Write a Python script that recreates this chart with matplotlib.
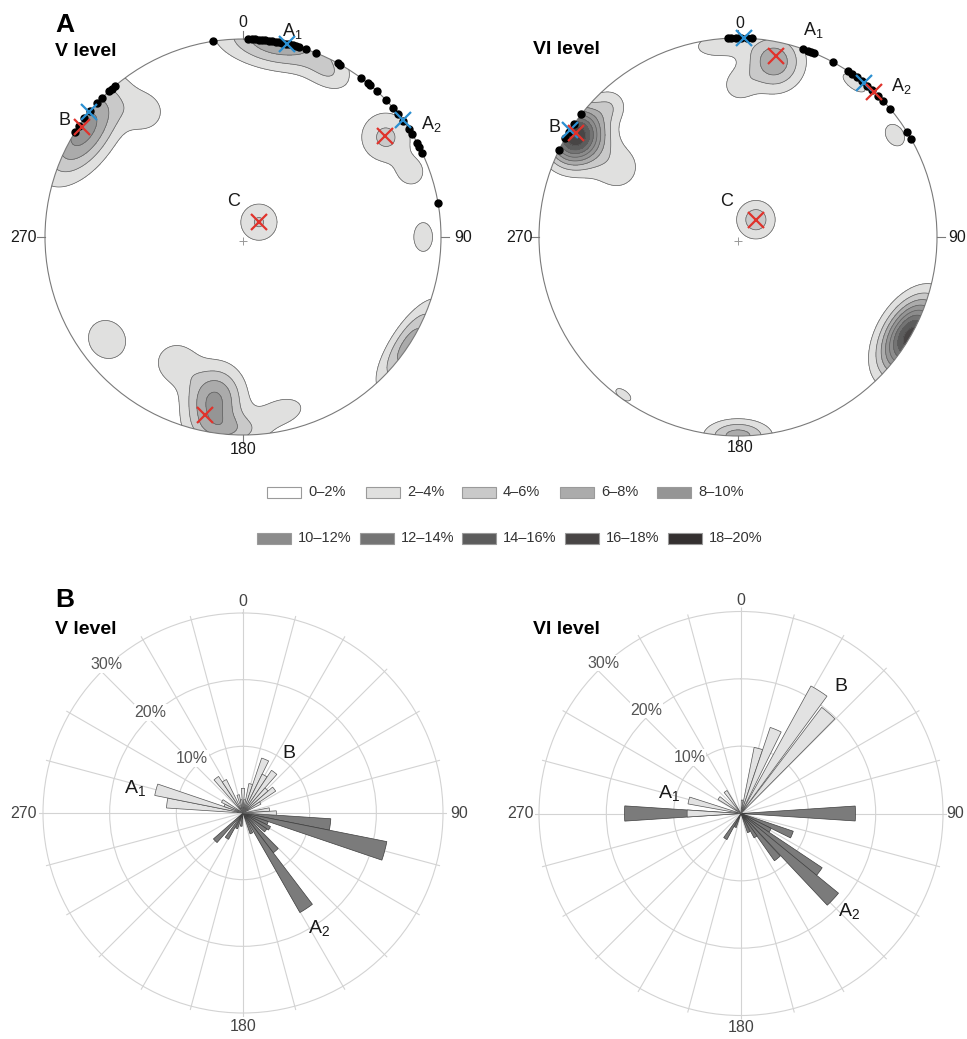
import numpy as np
import matplotlib
matplotlib.use("Agg")
import matplotlib.pyplot as plt
from matplotlib.patches import Circle, Rectangle

plt.rcParams['font.family'] = ['Liberation Sans', 'DejaVu Sans']
plt.rcParams['mathtext.fontset'] = 'custom'
plt.rcParams['mathtext.rm'] = 'Liberation Sans'

W, H = 967, 1039

# ---------------- stereonet data ----------------
# pole-density clusters: azimuth (deg), distance from centre (fraction of radius),
# tangential spread, radial spread, peak density (%)
v_az = [10, 28, 304, 322, 55, 69, 90, 47, 233, 190, 183, 167, 208, 123]
v_r = [1.0, 0.93, 0.97, 0.80, 0.88, 0.91, 0.91, 0.11, 0.86, 0.84, 0.98, 0.90, 0.72, 1.0]
v_st = [0.20, 0.09, 0.19, 0.08, 0.095, 0.06, 0.10, 0.075, 0.11, 0.10, 0.13, 0.10, 0.08, 0.17]
v_sr = [0.09, 0.06, 0.10, 0.08, 0.095, 0.06, 0.065, 0.075, 0.10, 0.12, 0.06, 0.06, 0.08, 0.06]
v_pk = [7.5, 3.0, 9.0, 3.0, 4.5, 3.0, 2.6, 4.2, 3.0, 8.5, 4.0, 3.0, 3.5, 7.0]

vi_az = [11.6, 0, 354, 37, 57, 302, 300, 316, 46, 120, 216, 180]
vi_r = [0.90, 0.76, 0.97, 0.97, 0.94, 0.96, 0.70, 0.92, 0.125, 1.0, 0.98, 1.0]
vi_st = [0.10, 0.06, 0.10, 0.08, 0.08, 0.10, 0.10, 0.06, 0.07, 0.14, 0.06, 0.11]
vi_sr = [0.10, 0.06, 0.05, 0.035, 0.06, 0.09, 0.10, 0.06, 0.07, 0.085, 0.03, 0.055]
vi_pk = [7.5, 2.8, 3.2, 2.8, 2.6, 18.0, 3.0, 3.0, 5.2, 17.0, 2.6, 7.0]

# measured planes (black dots on the primitive circle), azimuths
v_dots = [351.3, 1.5, 2.5, 3.5, 4.5, 5.5, 6.5, 7.5, 8.5, 9.5, 10.5, 11.5, 12.5, 13.5,
          14.5, 15.5, 16.5, 18.5, 21.6, 28.6, 29.5, 36.6, 39, 40, 42.4, 46.2, 49.2,
          51.5, 54, 56.8, 58.5, 61.6, 63, 64.8, 80, 319.7, 318.5, 317.3, 314.7,
          312.7, 309.6, 306.8, 304, 301.9]
vi_dots = [357, 358, 359.5, 1, 2.5, 4, 19, 20.5, 21.6, 22.6, 28.4, 33.6, 34.9, 36.7,
           38.5, 40.5, 42.5, 44.7, 46.9, 50, 58, 60.4, 308, 304.5, 302, 299.7, 295.8]

# mean orientations: azimuth, distance, colour
v_cross_az = [12.8, 53.8, 309, 304.2, 54.5, 46.8, 192]
v_cross_r = [1.0, 1.0, 1.0, 0.985, 0.88, 0.113, 0.92]
v_cross_c = ['b', 'b', 'b', 'r', 'r', 'r', 'r']
vi_cross_az = [1.7, 39.1, 302.4, 12, 43.2, 302.7, 46.6]
vi_cross_r = [1.0, 1.0, 1.0, 0.93, 1.0, 0.97, 0.127]
vi_cross_c = ['b', 'b', 'b', 'r', 'r', 'r', 'r']

levels = list(range(0, 22, 2))
level_colors = ['#ffffff', '#e0e0df', '#c9c9c9', '#ababab', '#959595',
                '#8c8c8c', '#747474', '#5c5c5c', '#484545', '#343030']
level_labels = ['0–2%', '2–4%', '4–6%', '6–8%', '8–10%',
                '10–12%', '12–14%', '14–16%', '16–18%', '18–20%']

# ---------------- rose data ----------------
v_light_az = [277.5, 285, 292.5, 300, 322.5, 330, 345, 352.5, 0, 7.5, 15, 22.5, 30,
              37.5, 45, 52.5, 60, 82.5, 90]
v_light_len = [11.5, 13.5, 3.0, 3.6, 6.6, 5.6, 2.8, 2.0, 3.7, 2.0, 4.5, 8.7, 6.5,
               7.7, 5.0, 5.9, 3.0, 4.0, 5.0]
v_dark_az = [97.5, 105, 112.5, 120, 127.5, 139, 146.5, 157.5, 187.5, 202.5, 212.5, 225]
v_dark_len = [13.2, 22.0, 4.0, 4.6, 4.3, 7.5, 17.2, 3.3, 2.0, 2.5, 4.5, 5.9]

vi_light_az = [270, 284, 305, 325, 5, 15, 22.5, 32.5, 41]
vi_light_len = [8.0, 8.0, 4.0, 4.0, 2.0, 10.0, 13.5, 21.6, 19.8]
vi_dark_az = [90, 112.5, 120, 127.5, 133, 141, 148, 157.5, 202.5, 212, 270]
vi_dark_len = [17.0, 8.2, 5.0, 14.5, 18.7, 8.6, 4.1, 3.0, 2.2, 4.4, 17.3]

BLUE = '#2b8fd1'
RED = '#e0332c'


def px_rect(cx, cy, half):
    return [(cx - half) / W, (H - cy - half) / H, 2 * half / W, 2 * half / H]


def xy(az, r):
    t = np.radians(np.asarray(az, dtype=float))
    return np.asarray(r) * np.sin(t), np.asarray(r) * np.cos(t)


def density(az, r, st, sr, pk, X, Y):
    Z = np.zeros_like(X)
    for a, rr, s1, s2, p in zip(az, r, st, sr, pk):
        t = np.radians(a)
        ux, uy = np.sin(t), np.cos(t)
        dx, dy = X - rr * ux, Y - rr * uy
        d_r = dx * ux + dy * uy
        d_t = dx * uy - dy * ux
        Z += p * np.exp(-0.5 * ((d_t / s1) ** 2 + (d_r / s2) ** 2))
    return np.clip(Z, 0, 19.9)


def stereonet(cx, cy, R, az, r, st, sr, pk, dots, c_az, c_r, c_col, labels):
    lim = 1.15
    ax = fig.add_axes(px_rect(cx, cy, lim * R))
    ax.set_xlim(-lim, lim)
    ax.set_ylim(-lim, lim)
    ax.set_aspect('equal')
    ax.axis('off')

    g = np.linspace(-1.02, 1.02, 500)
    X, Y = np.meshgrid(g, g)
    Z = density(az, r, st, sr, pk, X, Y)
    clip = Circle((0, 0), 1, transform=ax.transData)
    cf = ax.contourf(X, Y, Z, levels=levels, colors=level_colors)
    cf.set_clip_path(clip)
    cl = ax.contour(X, Y, Z, levels=levels[1:-1], colors='#5e5e5e', linewidths=0.5)
    cl.set_clip_path(clip)

    ax.add_patch(Circle((0, 0), 1, fill=False, ec='#7a7a7a', lw=0.8))
    for a in (0, 90, 180, 270):
        x0, y0 = xy(a, 1.0)
        x1, y1 = xy(a, 1.04)
        ax.plot([x0, x1], [y0, y1], color='#7a7a7a', lw=0.8)
    ax.plot(0, -0.02, '+', color='#999999', ms=6, mew=0.7)

    dx, dy = xy(dots, np.ones(len(dots)))
    ax.plot(dx, dy, 'o', color='black', ms=5, zorder=5)
    for a, rr, c in zip(c_az, c_r, c_col):
        px, py = xy(a, rr)
        ax.plot(px, py, 'x', color=BLUE if c == 'b' else RED, ms=11, mew=1.6, zorder=6)

    for txt, x, y, fs in labels:
        ax.text(x, y, txt, fontsize=fs, ha='center', va='center', color='#1a1a1a')
    return ax


def rose(cx, cy, R30, l_az, l_len, d_az, d_len, labels, pct_pos, deg_pos):
    rmax = 30.6
    ax = fig.add_axes(px_rect(cx, cy, R30 * rmax / 30), projection='polar')
    ax.set_theta_zero_location('N')
    ax.set_theta_direction(-1)
    ax.set_ylim(0, rmax)
    ax.set_yticks([10, 20, 30])
    ax.set_yticklabels([])
    ax.set_xticks(np.radians(np.arange(0, 360, 15)))
    ax.set_xticklabels([])
    ax.grid(color='#d3d3d3', lw=0.8)
    ax.spines['polar'].set_visible(False)
    ax.set_axisbelow(True)
    ax.set_facecolor('none')
    w = np.radians(7.5)
    ax.bar(np.radians(d_az), d_len, width=w, color='#7b7b7b', edgecolor='#3e3e3e',
           linewidth=0.5, zorder=3)
    ax.bar(np.radians(l_az), l_len, width=w, color='#e2e2e2', edgecolor='#555555',
           linewidth=0.5, zorder=4)
    for txt, a, rr, fs in labels:
        ax.text(np.radians(a), rr, txt, fontsize=fs, ha='center', va='center',
                color='#1a1a1a', clip_on=False)
    for txt, a, rr in pct_pos:
        ax.text(np.radians(a), rr, txt, fontsize=11.5, ha='center', va='center',
                color='#555555', clip_on=False,
                bbox=dict(fc='white', ec='none', pad=0.5))
    for txt, a, rr in deg_pos:
        ax.text(np.radians(a), rr, txt, fontsize=11.5, ha='center', va='center',
                color='#444444', clip_on=False)
    return ax


fig = plt.figure(figsize=(W / 100, H / 100), dpi=100)

A1 = 'A$_{\\mathrm{1}}$'
A2 = 'A$_{\\mathrm{2}}$'

stereonet(243, 237, 198, v_az, v_r, v_st, v_sr, v_pk, v_dots,
          v_cross_az, v_cross_r, v_cross_c,
          [('0', 0.0, 1.085, 11.5), (A1, 0.25, 1.04, 13), (A2, 0.95, 0.57, 13),
           ('B', -0.90, 0.59, 13), ('C', -0.05, 0.18, 13), ('90', 1.11, 0.0, 11.5),
           ('180', 0.0, -1.075, 11.5), ('270', -1.11, 0.0, 11.5)])
stereonet(738, 237, 199, vi_az, vi_r, vi_st, vi_sr, vi_pk, vi_dots,
          vi_cross_az, vi_cross_r, vi_cross_c,
          [('0', 0.01, 1.075, 11.5), (A1, 0.38, 1.04, 13), (A2, 0.82, 0.76, 13),
           ('B', -0.92, 0.55, 13), ('C', -0.055, 0.18, 13), ('90', 1.10, 0.0, 11.5),
           ('180', 0.01, -1.06, 11.5), ('270', -1.10, 0.0, 11.5)])

rose(243, 813, 200, v_light_az, v_light_len, v_dark_az, v_dark_len,
     [(A1, 282.4, 16.6, 14), ('B', 37.8, 11.3, 14), (A2, 146.9, 20.8, 14)],
     [('10%', 317, 11.2), ('20%', 317.4, 20.5), ('30%', 317.4, 30.2)],
     [('0', 0, 31.7), ('90', 90, 32.4), ('180', 180, 32.0), ('270', 270, 32.9)])
rose(741, 813.5, 202, vi_light_az, vi_light_len, vi_dark_az, vi_dark_len,
     [(A1, 285, 11.0, 14), ('B', 38, 24.0, 14), (A2, 132.3, 21.6, 14)],
     [('10%', 317.5, 11.3), ('20%', 317.5, 20.8), ('30%', 317.5, 30.3)],
     [('0', 0, 31.6), ('90', 90, 31.8), ('180', 180, 31.8), ('270', 270, 32.8)])

# panel letters and level titles
fig.text(55 / W, 1 - 25 / H, 'A', fontsize=19, fontweight='bold', ha='left', va='center')
fig.text(55 / W, 1 - 51 / H, 'V level', fontsize=14, fontweight='bold', ha='left', va='center')
fig.text(533 / W, 1 - 50 / H, 'VI level', fontsize=14, fontweight='bold', ha='left', va='center')
fig.text(55 / W, 1 - 600 / H, 'B', fontsize=19, fontweight='bold', ha='left', va='center')
fig.text(55 / W, 1 - 630 / H, 'V level', fontsize=14, fontweight='bold', ha='left', va='center')
fig.text(533 / W, 1 - 630 / H, 'VI level', fontsize=14, fontweight='bold', ha='left', va='center')

# contour legend
row_x = [[267, 366, 462, 560, 657], [257, 360, 462, 565, 668]]
row_y = [492, 538]
for i in range(10):
    row, col = divmod(i, 5)
    x0 = row_x[row][col]
    y0 = row_y[row]
    fig.add_artist(Rectangle((x0 / W, 1 - (y0 + 5.5) / H), 34 / W, 11 / H,
                             transform=fig.transFigure, fc=level_colors[i],
                             ec='#9a9a9a', lw=0.8))
    fig.text((x0 + 41) / W, 1 - y0 / H, level_labels[i], fontsize=10.5,
             ha='left', va='center', color='#333333')

fig.savefig('out.png', dpi=100)
